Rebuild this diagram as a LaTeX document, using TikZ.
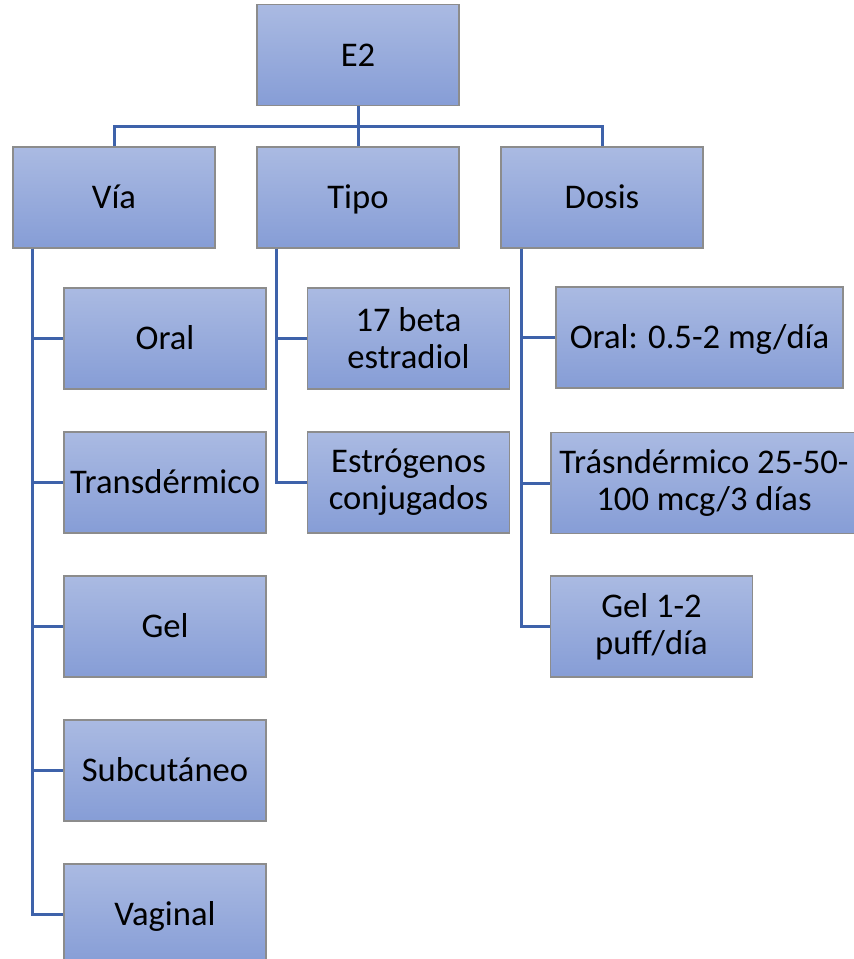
\documentclass[tikz,border=0pt]{standalone}
\usepackage{fontspec}
\setmainfont{Carlito}

\definecolor{boxtop}{RGB}{170,186,226}
\definecolor{boxbot}{RGB}{134,157,214}
\definecolor{linkblue}{RGB}{62,98,170}

\begin{document}
\begin{tikzpicture}[
  x=0.5pt,
  y=-0.5pt,
  box/.style={
    draw=black!45,
    line width=0.6pt,
    top color=boxtop,
    bottom color=boxbot,
    minimum width=101pt,
    minimum height=50.5pt,
    inner sep=2pt,
    align=center,
    font=\fontsize{17.3}{18.6}\selectfont,
  },
  single/.style={text height=11.2pt, text depth=0pt},
  link/.style={linkblue, line width=1.5pt},
]
  \useasboundingbox (0,0) rectangle (854,959);

  % top level
  \node[box, single] (e2) at (358,55) {E2};
  \node[box, single] (via) at (114,197.5) {Vía};
  \node[box, single] (tipo) at (358,197.5) {Tipo};
  \node[box, single] (dosis) at (602,197.5) {Dosis};

  % children
  \foreach \name/\text [count=\i] in {
    oral/Oral,
    trans/Transdérmico,
    gel/Gel,
    subcu/Subcutáneo,
    vag/Vaginal%
  } {
    \node[box, single] (via-\name) at (165,194.5+144*\i) {\text};
  }
  \node[box] (tipo-beta) at (408.5,338.5) {17 beta\\estradiol};
  \node[box] (tipo-conj) at (408.5,482.5) {Estrógenos\\conjugados};
  \node[box, single, minimum width=143.5pt] (dosis-oral) at (699.5,337.5)
    {Oral: 0.5-2 mg/día};
  \node[box, minimum width=153pt] (dosis-trans) at (704,483)
    {Trásndérmico 25-50-\\100 mcg/3 días};
  \node[box] (dosis-gel) at (651.5,626.5) {Gel 1-2\\puff/día};

  % connectors
  \begin{scope}[link]
    \draw (e2.south) -- ++(0,20) coordinate (split);
    \foreach \n in {via,tipo,dosis}
      \draw (split) -| (\n.north);
    \foreach \c in {oral,trans,gel,subcu,vag}
      \draw ([xshift=10pt]via.south west) |- (via-\c.west);
    \foreach \c in {beta,conj}
      \draw ([xshift=10pt]tipo.south west) |- (tipo-\c.west);
    \foreach \c in {oral,trans,gel}
      \draw ([xshift=10.5pt]dosis.south west) |- (dosis-\c.west);
  \end{scope}
\end{tikzpicture}
\end{document}
